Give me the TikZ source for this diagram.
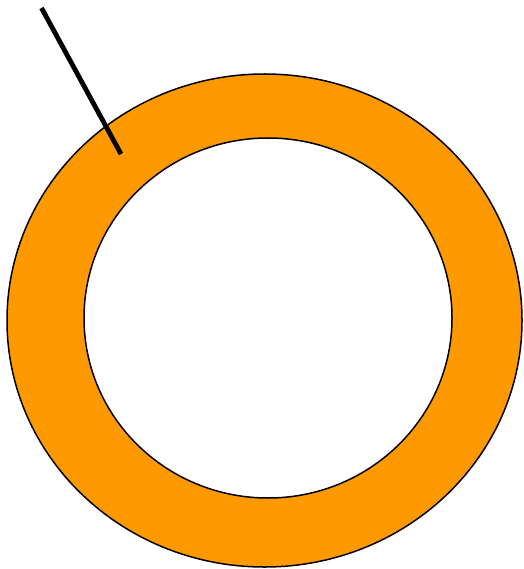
\documentclass[tikz,border=0pt]{standalone}
\usepackage{tikz}
\usetikzlibrary{calc}

\definecolor{ringorange}{HTML}{FF9900}

\begin{document}
\begin{tikzpicture}[x=1pt, y=-1pt]

    \useasboundingbox (0,0) rectangle (523,569);

    \pgfmathsetmacro{\rxo}{257.5}
    \pgfmathsetmacro{\ryo}{246.5}
    \pgfmathsetmacro{\rxi}{184}
    \pgfmathsetmacro{\ryi}{180}

    % 外側の楕円（オレンジ）
    \draw[line width=1.5pt, fill=ringorange] (264.5,320.5) ellipse ({\rxo} and {\ryo});

    % 内側の楕円（白）
    \draw[line width=1.5pt, fill=white] (268,318) ellipse ({\rxi} and {\ryi});

    % 線分
    \coordinate (top) at (41.5,8);
    \coordinate (tip) at (121,154);
    \draw[line width=4.8pt] (top) -- (tip);

\end{tikzpicture}
\end{document}
